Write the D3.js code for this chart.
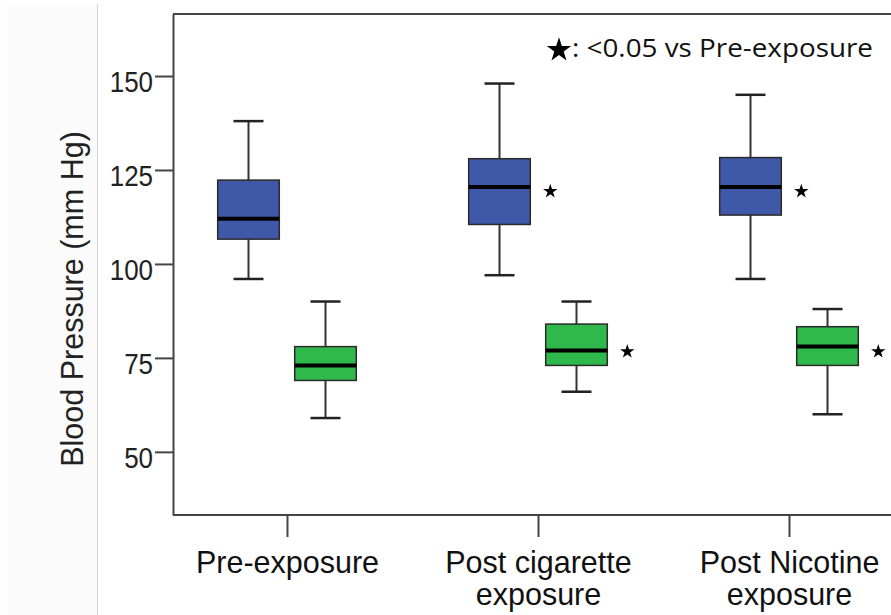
<!DOCTYPE html>
<html>
<head>
<meta charset="utf-8">
<script src="https://cdn.jsdelivr.net/npm/d3@7/dist/d3.min.js"></script>
<style>
  html, body { margin: 0; padding: 0; background: #fff; }
  svg { display: block; }
</style>
</head>
<body>
<svg id="chart" width="891" height="615"></svg>
<script>
// ---- data ----
const categories = ["Pre-exposure", "Post cigarette exposure", "Post Nicotine exposure"];
const categoryLines = [["Pre-exposure"], ["Post cigarette", "exposure"], ["Post Nicotine", "exposure"]];
const series = ["Systolic", "Diastolic"];
const seriesColors = ["#3f58a8", "#2fb84b"];

const sysLow  = [96, 97, 96];
const sysQ1   = [106.6, 110.5, 113];
const sysMed  = [112, 120.5, 120.5];
const sysQ3   = [122.3, 128, 128.3];
const sysHigh = [138, 148, 145];

const diaLow  = [59, 66, 60];
const diaQ1   = [69, 73, 73];
const diaMed  = [73, 77, 78];
const diaQ3   = [78, 84, 83.3];
const diaHigh = [90, 90, 88];

const sysStar = [null, 119.3, 119.3];
const diaStar = [null, 76.7, 76.7];

const yTicks = [50, 75, 100, 125, 150];
const yDomain = [33.2, 166.5];
const yTitle = "Blood Pressure (mm Hg)";
const legendText = ": <0.05 vs Pre-exposure";

// ---- build rows ----
const rows = [];
categories.forEach((c, i) => {
  rows.push({cat: c, s: series[0], low: sysLow[i], q1: sysQ1[i], med: sysMed[i], q3: sysQ3[i], high: sysHigh[i], star: sysStar[i]});
  rows.push({cat: c, s: series[1], low: diaLow[i], q1: diaQ1[i], med: diaMed[i], q3: diaQ3[i], high: diaHigh[i], star: diaStar[i]});
});

// ---- layout ----
const svg = d3.select("#chart");
const plot = {left: 173, top: 14, bottom: 515, right: 905};

const y = d3.scaleLinear().domain(yDomain).range([plot.bottom, plot.top]);
const x = d3.scalePoint().domain(categories).range([287, 789]);
const xs = d3.scaleBand().domain(series).range([-77, 77]).padding(0);
const color = d3.scaleOrdinal().domain(series).range(seriesColors);
const boxW = xs.bandwidth() * 0.8;
const capW = 30;

// left side panel
svg.append("rect").attr("x", 7).attr("y", 4).attr("width", 90).attr("height", 611).attr("fill", "#fbfbfb");
svg.append("line").attr("x1", 97.5).attr("x2", 97.5).attr("y1", 4).attr("y2", 615)
  .attr("stroke", "#d4d4d4").attr("stroke-width", 1);

// frame top & bottom
svg.append("path")
  .attr("d", `M${plot.left},${plot.top}H${plot.right}M${plot.left},${plot.bottom}H${plot.right}`)
  .attr("stroke", "#444").attr("stroke-width", 2).attr("fill", "none");

// y axis
const yAxis = svg.append("g").attr("transform", `translate(${plot.left},0)`)
  .call(d3.axisLeft(y).tickValues(yTicks).tickSize(18).tickSizeOuter(0));
yAxis.select(".domain").attr("stroke", "#444").attr("stroke-width", 2);
yAxis.selectAll(".tick line").attr("stroke", "#444").attr("stroke-width", 2);
yAxis.selectAll(".tick text")
  .attr("font-family", "'Liberation Sans', Arial, sans-serif")
  .attr("font-size", 29.5).attr("fill", "#222")
  .attr("x", -20 / 0.88).attr("dy", 15.5)
  .attr("transform", "scale(0.88,1)");

// x axis
const xAxis = svg.append("g").attr("transform", `translate(0,${plot.bottom})`)
  .call(d3.axisBottom(x).tickSize(22).tickSizeOuter(0));
xAxis.select(".domain").remove();
xAxis.selectAll(".tick line").attr("stroke", "#444").attr("stroke-width", 2);
xAxis.selectAll(".tick text").remove();
xAxis.selectAll(".tick").each(function(d, i) {
  const tick = d3.select(this);
  categoryLines[i].forEach((line, k) => {
    tick.append("text")
      .attr("font-family", "'Liberation Sans', Arial, sans-serif")
      .attr("font-size", 30.5).attr("fill", "#111")
      .attr("text-anchor", "middle")
      .attr("x", 0).attr("y", 58 + k * 32)
      .text(line);
  });
});

// y title
svg.append("text")
  .attr("transform", "translate(83,299) rotate(-90)")
  .attr("text-anchor", "middle")
  .attr("font-family", "'Liberation Sans', Arial, sans-serif")
  .attr("font-size", 30.5).attr("fill", "#222")
  .text(yTitle);

// boxes
const g = svg.append("g");
const box = g.selectAll("g.box").data(rows).join("g")
  .attr("class", "box")
  .attr("transform", d => `translate(${x(d.cat) + xs(d.s) + xs.bandwidth() / 2},0)`);

box.append("line").attr("x1", 0).attr("x2", 0)
  .attr("y1", d => y(d.high)).attr("y2", d => y(d.low))
  .attr("stroke", "#333").attr("stroke-width", 2);
box.append("line").attr("x1", -capW / 2).attr("x2", capW / 2)
  .attr("y1", d => y(d.high)).attr("y2", d => y(d.high))
  .attr("stroke", "#222").attr("stroke-width", 2.5);
box.append("line").attr("x1", -capW / 2).attr("x2", capW / 2)
  .attr("y1", d => y(d.low)).attr("y2", d => y(d.low))
  .attr("stroke", "#222").attr("stroke-width", 2.5);
box.append("rect")
  .attr("x", -boxW / 2).attr("width", boxW)
  .attr("y", d => y(d.q3)).attr("height", d => y(d.q1) - y(d.q3))
  .attr("fill", d => color(d.s))
  .attr("stroke", "#2a2a2a").attr("stroke-width", 1.5);
box.append("line").attr("x1", -boxW / 2).attr("x2", boxW / 2)
  .attr("y1", d => y(d.med)).attr("y2", d => y(d.med))
  .attr("stroke", "#000").attr("stroke-width", 4);

// significance stars
const starSmall = d3.symbol().type(d3.symbolStar).size(64);
box.filter(d => d.star != null).append("path")
  .attr("d", starSmall)
  .attr("transform", d => `translate(${boxW / 2 + 20},${y(d.star)})`)
  .attr("fill", "#000");

// legend
const starBig = d3.symbol().type(d3.symbolStar).size(185);
svg.append("path").attr("d", starBig).attr("transform", "translate(559,50)").attr("fill", "#000");
svg.append("text")
  .attr("x", 572).attr("y", 57)
  .attr("font-family", "'Open Sans', sans-serif")
  .attr("font-size", 25).attr("fill", "#111")
  .attr("textLength", 301).attr("lengthAdjust", "spacingAndGlyphs")
  .text(legendText);
</script>
</body>
</html>
